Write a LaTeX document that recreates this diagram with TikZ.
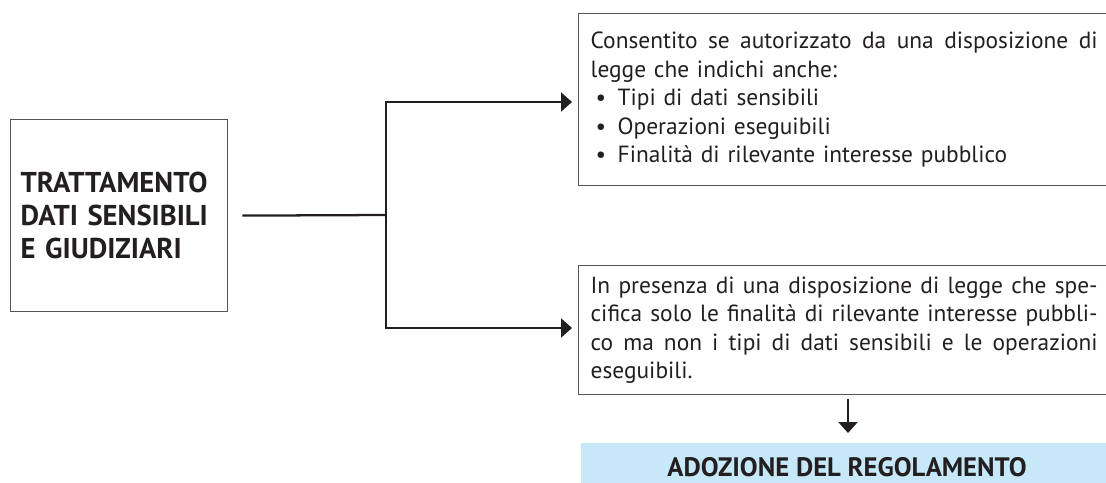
\documentclass[tikz,border=0pt]{standalone}
\usepackage{fontspec}
\setmainfont{PT Sans}
\usetikzlibrary{arrows.meta}
\definecolor{boxgray}{RGB}{85,85,85}
\definecolor{lightblue}{RGB}{198,232,248}
\definecolor{ink}{RGB}{35,31,32}
\newlength\bw
\setlength\bw{380.25pt}
\newcommand{\jl}[1]{\leavevmode\hbox to \bw{\spaceskip=\fontdimen2\font plus 1fil\relax #1}}
\tikzset{
  frame/.style={draw=boxgray, line width=1pt, anchor=north west, inner ysep=0pt, align=left, text=ink},
  conn/.style={draw=ink, line width=1.7pt},
  arr/.style={conn, -{Triangle[length=8.25pt,width=14.25pt]}},
  bodytext/.style={font=\fontsize{17.55}{21.4}\selectfont},
}
\newcommand{\bul}[1]{\makebox[20.25pt][l]{\hspace*{3.75pt}\textbullet}#1}
\begin{document}
\begin{tikzpicture}[x=0.75pt,y=-0.75pt]
\useasboundingbox (0,0) rectangle (1106,482);
\clip (0,0) rectangle (1106,482);
% left box
\node[frame, inner xsep=7.5pt, text width=147.75pt, minimum height=144pt,
      font=\bfseries\fontsize{21.5}{24.75}\selectfont] (left) at (10,119)
  {TRATTAMENTO\\DATI SENSIBILI\\E GIUDIZIARI};
% top right box
\node[frame, bodytext, inner xsep=9pt, text width=380.25pt, minimum height=129pt] (top) at (578,13)
  {\jl{Consentito se autorizzato da una disposizione di}\\
   legge che indichi anche:\\
   \bul{Tipi di dati sensibili}\\
   \bul{Operazioni eseguibili}\\
   \bul{Finalità di rilevante interesse pubblico}};
% bottom right box
\node[frame, bodytext, inner xsep=9pt, text width=380.25pt, minimum height=96.75pt] (bot) at (578,265)
  {\jl{In presenza di una disposizione di legge che spe-}\\
   \jl{cifica solo le finalità di rilevante interesse pubbli-}\\
   \jl{co ma non i tipi di dati sensibili e le operazioni}\\
   eseguibili.};
% blue box
\node[anchor=north west, fill=lightblue, minimum width=396.75pt, minimum height=39.75pt,
      inner sep=0pt] (blue) at (581,443) {};
\node[text=ink, inner sep=0pt, text height=14.5pt, text depth=0pt,
      font=\bfseries\fontsize{20}{24}\selectfont, anchor=base] (bluetext) at (847,476)
  {ADOZIONE DEL REGOLAMENTO};
% connectors
\coordinate (j) at (386,215);
\coordinate (jt) at (386,102);
\coordinate (jb) at (386,328);
\coordinate (dx) at (848,0);
\draw[conn, shorten <=10.5pt] (left.east) -- (j);
\draw[conn, line cap=rect] (jt) -- (jb);
\draw[arr, shorten >=4.5pt] (jt) -- (jt -| top.west);
\draw[arr, shorten >=4.5pt] (jb) -- (jb -| bot.west);
\draw[arr, shorten <=3pt, shorten >=7.5pt] (bot.south -| dx) -- (blue.north -| dx);
\end{tikzpicture}
\end{document}
